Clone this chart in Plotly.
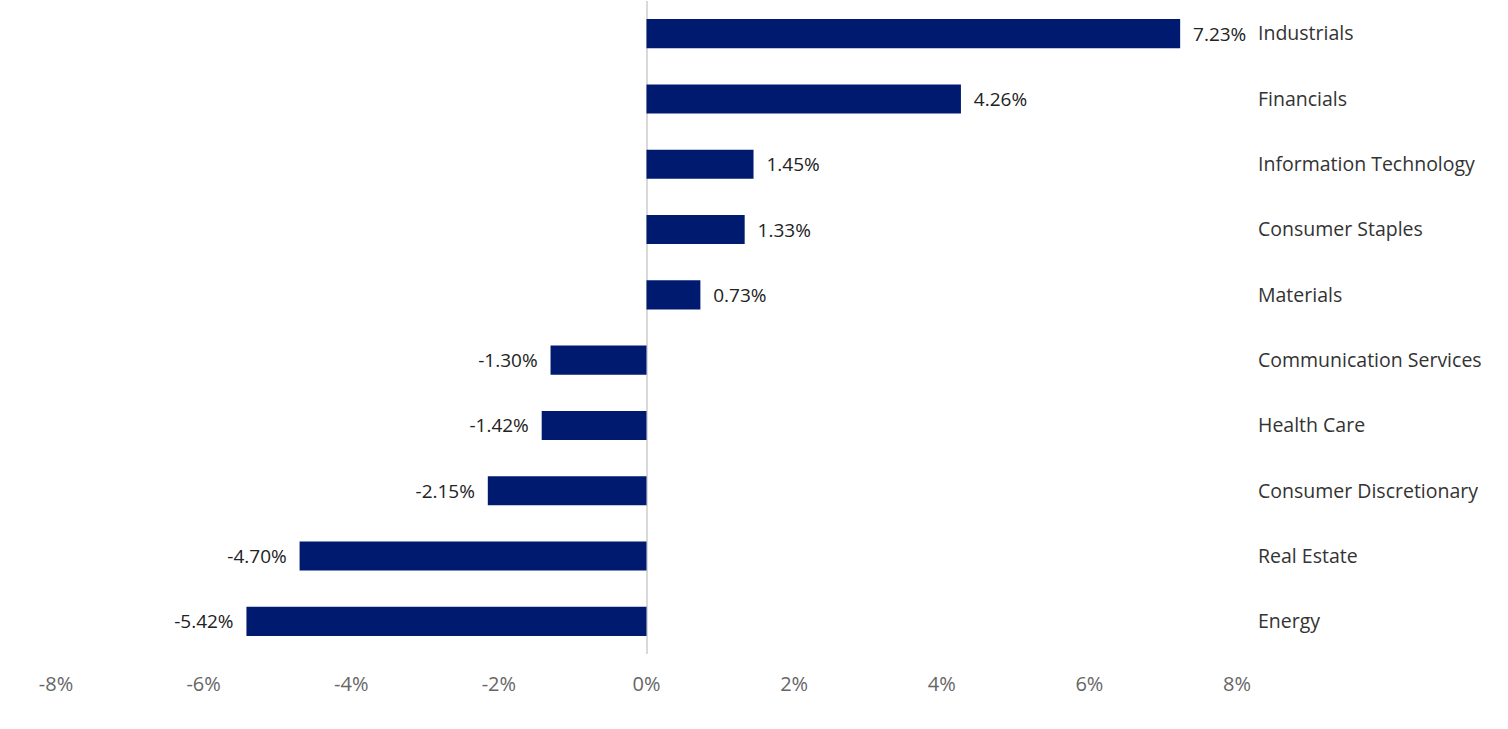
import plotly.graph_objects as go

sectors = ['Industrials', 'Financials', 'Information Technology', 'Consumer Staples',
           'Materials', 'Communication Services', 'Health Care',
           'Consumer Discretionary', 'Real Estate', 'Energy']
returns = [7.23, 4.26, 1.45, 1.33, 0.73, -1.30, -1.42, -2.15, -4.70, -5.42]

tick_vals = [-8, -6, -4, -2, 0, 2, 4, 6, 8]
tick_text = ['-8%', '-6%', '-4%', '-2%', '0%', '2%', '4%', '6%', '8%']

navy = '#001A70'
pad = '\u00a0\u00a0'
labels = [(pad + '%.2f%%' % v) if v >= 0 else ('%.2f%%' % v + pad) for v in returns]

fig = go.Figure(go.Bar(
    x=returns,
    y=sectors,
    orientation='h',
    marker=dict(color=navy, line=dict(width=0)),
    text=labels,
    textposition='outside',
    textfont=dict(family='Open Sans', size=19, color='#222222'),
    cliponaxis=False,
))

fig.update_layout(
    width=1508, height=729,
    margin=dict(l=56, r=271, t=1, b=75),
    plot_bgcolor='white', paper_bgcolor='white',
    bargap=0.555,
    showlegend=False,
    font=dict(family='Open Sans', size=19, color='#333333'),
)
fig.update_xaxes(
    range=[-8, 8], tickvals=tick_vals, ticktext=tick_text,
    showgrid=False, zeroline=True, zerolinecolor='#d9d9d9', zerolinewidth=1.5,
    showline=False, ticks='', ticklabelstandoff=16, automargin=False,
    tickfont=dict(family='Open Sans', size=20, color='#666666'),
)
fig.update_yaxes(
    categoryorder='array', categoryarray=sectors[::-1],
    side='right', showgrid=False, showline=False, ticks='',
    ticklabelstandoff=20, automargin=False,
    tickfont=dict(family='Open Sans', size=19.5, color='#333333'),
)

# page body has a default 8px margin; drop it so the figure sits at the corner
fig.write_html("out.html", config={'displayModeBar': False},
               post_script="document.body.style.margin='0';")
